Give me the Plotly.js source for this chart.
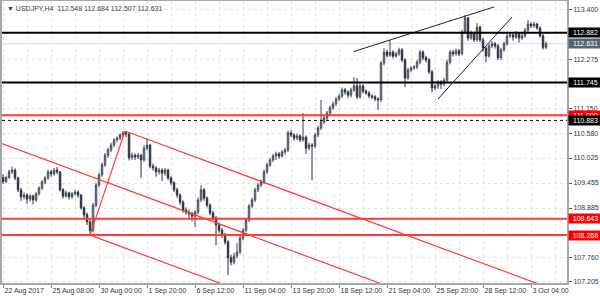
<!DOCTYPE html>
<html><head><meta charset="utf-8">
<script src="https://cdn.plot.ly/plotly-3.0.1.min.js"></script>
<style>html,body{margin:0;padding:0;background:#fff}#chart{width:600px;height:300px}</style>
</head><body><div id="chart"></div>
<script>
// USDJPY H4 candles, 22 Aug 2017 .. 3 Oct 2017
const openP = [109.58,109.49,109.58,109.71,109.75,109.57,109.30,109.14,109.18,109.09,109.16,109.07,109.21,109.34,109.48,109.57,109.71,109.66,109.75,109.71,
109.30,109.16,109.23,109.14,109.21,109.25,109.18,108.89,108.73,108.57,108.38,108.95,109.41,109.64,109.87,110.09,110.21,110.32,110.44,110.48,
110.55,110.60,110.57,110.03,110.09,110.05,110.09,109.98,110.25,110.32,109.84,109.80,109.71,109.75,109.68,109.75,109.57,109.46,109.30,109.18,
109.02,108.84,108.79,108.75,108.70,108.79,109.07,109.30,109.11,108.95,108.77,108.66,108.50,108.38,108.27,108.11,107.75,107.65,107.79,107.88,
108.20,108.38,108.61,108.93,109.07,109.30,109.41,109.48,109.71,109.87,109.98,110.07,110.12,110.07,110.16,110.21,110.60,110.55,110.48,110.53,
110.44,110.50,110.25,110.32,110.30,110.55,110.71,110.85,110.94,111.05,111.17,111.26,111.37,111.44,111.58,111.53,111.46,111.58,111.67,111.42,
111.67,111.55,111.51,111.44,111.42,111.37,111.35,112.19,112.44,112.37,112.44,112.35,112.40,112.49,112.26,111.85,112.03,112.08,112.10,112.21,
112.44,112.31,112.26,111.99,111.62,111.67,111.76,111.71,111.80,112.21,112.44,112.40,112.47,112.40,112.90,113.22,112.76,112.88,112.72,113.01,
112.72,112.53,112.35,112.58,112.63,112.58,112.31,112.49,112.63,112.81,112.83,112.78,112.85,112.76,112.81,112.94,113.08,113.04,113.08,112.99,
112.81,112.548];
const highP = [109.66,109.62,109.76,109.83,109.79,109.60,109.34,109.24,109.22,109.20,109.19,109.25,109.38,109.52,109.61,109.76,109.75,109.80,109.82,109.73,
109.34,109.28,109.26,109.25,109.30,109.29,109.20,108.93,108.78,108.62,109.00,109.46,109.69,109.92,110.14,110.26,110.37,110.48,110.52,110.59,
110.64,110.63,110.59,110.15,110.13,110.14,110.12,110.32,110.48,110.35,109.90,109.84,109.80,109.79,109.80,109.78,109.61,109.50,109.35,109.22,
109.06,108.90,108.85,108.80,108.84,109.12,109.41,109.34,109.15,108.99,108.82,108.70,108.55,108.43,108.32,108.15,107.82,107.86,108.09,108.25,
108.43,108.66,108.98,109.12,109.35,109.46,109.53,109.76,109.92,110.03,110.12,110.17,110.16,110.21,110.26,110.65,110.66,110.59,110.58,110.57,
111.05,110.54,110.37,110.36,110.60,110.76,111.35,110.99,111.10,111.22,111.31,111.42,111.49,111.63,111.62,111.57,111.63,111.87,111.85,111.72,
111.71,111.59,111.55,111.48,111.46,111.41,112.24,112.53,112.49,112.72,112.48,112.45,112.54,112.53,112.30,112.08,112.12,112.14,112.26,112.49,
112.48,112.36,112.30,112.03,111.71,111.80,111.80,111.85,112.26,112.49,112.49,112.52,112.51,112.95,113.29,113.24,112.93,112.91,113.10,113.04,
112.76,112.57,112.63,112.69,112.67,112.62,112.54,112.68,112.86,112.88,112.87,112.92,112.89,112.86,112.99,113.17,113.12,113.13,113.11,113.03,
112.85,112.684];
const lowP = [109.44,109.45,109.55,109.66,109.52,109.25,109.05,109.08,108.98,109.03,108.97,109.02,109.17,109.30,109.43,109.53,109.60,109.62,109.66,109.26,
109.10,109.12,109.08,109.10,109.17,109.12,108.85,108.66,108.50,108.268,108.33,108.90,109.36,109.60,109.82,110.03,110.16,110.27,110.38,110.43,
110.50,110.50,109.97,109.98,109.98,110.00,109.57,109.94,110.20,109.79,109.74,109.60,109.65,109.50,109.62,109.52,109.40,109.25,109.12,108.96,
108.78,108.73,108.62,108.58,108.45,108.74,109.02,109.05,108.90,108.72,108.60,108.04,108.32,108.20,108.05,107.36,107.58,107.60,107.74,107.84,
108.15,108.33,108.56,108.88,109.02,109.25,109.36,109.43,109.66,109.82,109.93,109.98,110.01,110.03,110.10,110.16,110.50,110.42,110.43,110.39,
110.40,110.12,110.20,109.52,110.25,110.50,110.66,110.80,110.89,111.00,111.12,111.21,111.32,111.39,111.47,111.40,111.41,111.53,111.37,111.38,
111.50,111.46,111.39,111.37,111.32,111.12,111.30,112.14,112.32,112.33,112.30,112.31,112.36,112.21,111.64,111.80,111.98,112.03,112.05,112.16,
112.26,112.20,111.94,111.53,111.57,111.60,111.60,111.66,111.75,112.16,112.34,112.36,112.35,112.36,112.85,112.70,112.72,112.67,112.68,112.67,
112.45,112.21,112.31,112.53,112.52,112.26,112.27,112.45,112.59,112.76,112.70,112.74,112.66,112.71,112.77,112.90,112.99,113.00,112.95,112.77,
112.50,112.507];
const closeP = [109.49,109.58,109.71,109.75,109.57,109.30,109.14,109.18,109.09,109.16,109.07,109.21,109.34,109.48,109.57,109.71,109.66,109.75,109.71,109.30,
109.16,109.23,109.14,109.21,109.25,109.18,108.89,108.73,108.57,108.38,108.95,109.41,109.64,109.87,110.09,110.21,110.32,110.44,110.48,110.55,
110.60,110.57,110.03,110.09,110.05,110.09,109.98,110.25,110.32,109.84,109.80,109.71,109.75,109.68,109.75,109.57,109.46,109.30,109.18,109.02,
108.84,108.79,108.75,108.70,108.79,109.07,109.30,109.11,108.95,108.77,108.66,108.50,108.38,108.27,108.11,107.75,107.65,107.79,107.88,108.20,
108.38,108.61,108.93,109.07,109.30,109.41,109.48,109.71,109.87,109.98,110.07,110.12,110.07,110.16,110.21,110.60,110.55,110.48,110.53,110.44,
110.50,110.25,110.32,110.30,110.55,110.71,110.85,110.94,111.05,111.17,111.26,111.37,111.44,111.58,111.53,111.46,111.58,111.67,111.42,111.67,
111.55,111.51,111.44,111.42,111.37,111.35,112.19,112.44,112.37,112.44,112.35,112.40,112.49,112.26,111.85,112.03,112.08,112.10,112.21,112.44,
112.31,112.26,111.99,111.62,111.67,111.76,111.71,111.80,112.21,112.44,112.40,112.47,112.40,112.90,113.22,112.76,112.88,112.72,113.01,112.72,
112.53,112.35,112.58,112.63,112.58,112.31,112.49,112.63,112.81,112.83,112.78,112.85,112.76,112.81,112.94,113.08,113.04,113.08,112.99,112.81,
112.55,112.631];

const xTickBars = [0,16,32,48,64,80,96,112,128,144,160,176];
const xTickLabels = ["22 Aug 2017","25 Aug 08:00","30 Aug 00:00","1 Sep 20:00","6 Sep 12:00","11 Sep 04:00","13 Sep 20:00","18 Sep 12:00","21 Sep 04:00","25 Sep 20:00","28 Sep 12:00","3 Oct 04:00"];
const yTickVals = [113.400,112.275,111.150,110.580,110.025,109.455,108.885,107.760,107.205];
const yTickLabels = ["113.400","112.275","111.150","110.580","110.025","109.455","108.885","107.760","107.205"];

// horizontal levels
const blackLevels = [112.882, 111.745];
const redLevels = [111.000, 108.643, 108.268];
const dashedLevel = 110.883;
const bidPrice = 112.631;
const titleText = "\u25BC USDJPY,H4  112.548 112.684 112.507 112.631";

// trend / channel lines: [bar index], [price]
const chanUpperX = [40.67, 188.5], chanUpperY = [110.64, 106.90];
const chanMidX = [-1, 188.5],      chanMidY = [110.37, 105.58];
const chanLowX = [29, 188.5],      chanLowY = [108.268, 104.23];
const chanBaseX = [29, 40.67],     chanBaseY = [108.268, 110.64];
const wedgeTopX = [116.8, 163.7],  wedgeTopY = [112.45, 113.47];
const wedgeBotX = [145, 169.7],    wedgeBotY = [111.37, 113.24];

const bars = closeP.map((_, i) => i);

const RED = '#ff3a3a';
const lineTrace = (x, y, color, w) => ({type:'scatter', mode:'lines', x, y, line:{color, width:w}, hoverinfo:'skip', showlegend:false});

const data = [
  {type:'candlestick', x:bars, open:openP, high:highP, low:lowP, close:closeP,
   increasing:{line:{color:'#3e4852', width:1}, fillcolor:'#b9c1c9'},
   decreasing:{line:{color:'#27323d', width:1}, fillcolor:'#27323d'},
   whiskerwidth:0, hoverinfo:'skip', showlegend:false},
  lineTrace(chanUpperX, chanUpperY, RED, 1.2),
  lineTrace(chanMidX, chanMidY, RED, 1.2),
  lineTrace(chanLowX, chanLowY, RED, 1.2),
  lineTrace(chanBaseX, chanBaseY, RED, 1.2),
  lineTrace(wedgeTopX, wedgeTopY, '#222222', 1),
  lineTrace(wedgeBotX, wedgeBotY, '#222222', 1)
];

const shapes = [];
shapes.push({type:'line', xref:'paper', x0:0, x1:1, yref:'y', y0:bidPrice, y1:bidPrice, line:{color:'#d6dadd', width:1}, layer:'below'});
blackLevels.forEach(v => shapes.push({type:'line', xref:'paper', x0:0, x1:1, yref:'y', y0:v, y1:v, line:{color:'#000000', width:2}}));
redLevels.forEach(v => shapes.push({type:'line', xref:'paper', x0:0, x1:1, yref:'y', y0:v, y1:v, line:{color:RED, width:2}}));
shapes.push({type:'line', xref:'paper', x0:0, x1:1, yref:'y', y0:dashedLevel, y1:dashedLevel, line:{color:'#000000', width:1, dash:'3px,3px'}});

const boxAnn = (v, bg) => ({xref:'paper', x:1, xanchor:'left', xshift:1, yref:'y', y:v, yanchor:'middle',
  text:v.toFixed(3), showarrow:false, bgcolor:bg, borderpad:1, width:31, align:'center',
  font:{family:'Liberation Sans, Arial, sans-serif', size:7, color:'#ffffff'}});

const annotations = [
  {xref:'paper', yref:'paper', x:0, y:1, xanchor:'left', yanchor:'top', xshift:3, yshift:-2, showarrow:false,
   text:titleText, font:{family:'Liberation Sans, Arial, sans-serif', size:7, color:'#3a4450'}}
];
blackLevels.forEach(v => annotations.push(boxAnn(v, '#000000')));
redLevels.forEach(v => annotations.push(boxAnn(v, '#ff0000')));
annotations.push(boxAnn(dashedLevel, '#000000'));
annotations.push(boxAnn(bidPrice, '#57646f'));

const GRID = '#e2e2e2';
const layout = {
  width:600, height:300,
  margin:{l:2, r:33, t:1, b:17, pad:0},
  paper_bgcolor:'#ffffff', plot_bgcolor:'#ffffff',
  showlegend:false,
  boxgap:0.3,
  font:{family:'Liberation Sans, Arial, sans-serif', size:7, color:'#333333'},
  xaxis:{
    type:'linear', range:[-0.35, 188], rangeslider:{visible:false},
    tickmode:'array', tickvals:xTickBars, ticktext:xTickLabels,
    ticks:'outside', ticklen:3, tickcolor:'#8a8a8a', ticklabelposition:'outside right',
    tickangle:0, automargin:false,
    tickfont:{size:7, color:'#333333'},
    showgrid:true, gridcolor:GRID, griddash:'3px,3px', gridwidth:1,
    minor:{tickmode:'linear', tick0:0, dtick:8, showgrid:true, gridcolor:GRID, griddash:'3px,3px', ticklen:0},
    showline:true, linecolor:'#a4a8ac', linewidth:2, mirror:true, zeroline:false, fixedrange:true
  },
  yaxis:{
    side:'right', range:[107.176, 113.605],
    tickmode:'array', tickvals:yTickVals, ticktext:yTickLabels,
    ticks:'outside', ticklen:3, tickcolor:'#555555', automargin:false,
    tickfont:{size:7, color:'#333333'},
    showgrid:true, gridcolor:GRID, griddash:'3px,3px', gridwidth:1,
    showline:true, linecolor:'#a4a8ac', linewidth:2, mirror:true, zeroline:false, fixedrange:true
  },
  shapes, annotations
};

Plotly.newPlot('chart', data, layout, {staticPlot:true, displayModeBar:false});
</script>
</body></html>
